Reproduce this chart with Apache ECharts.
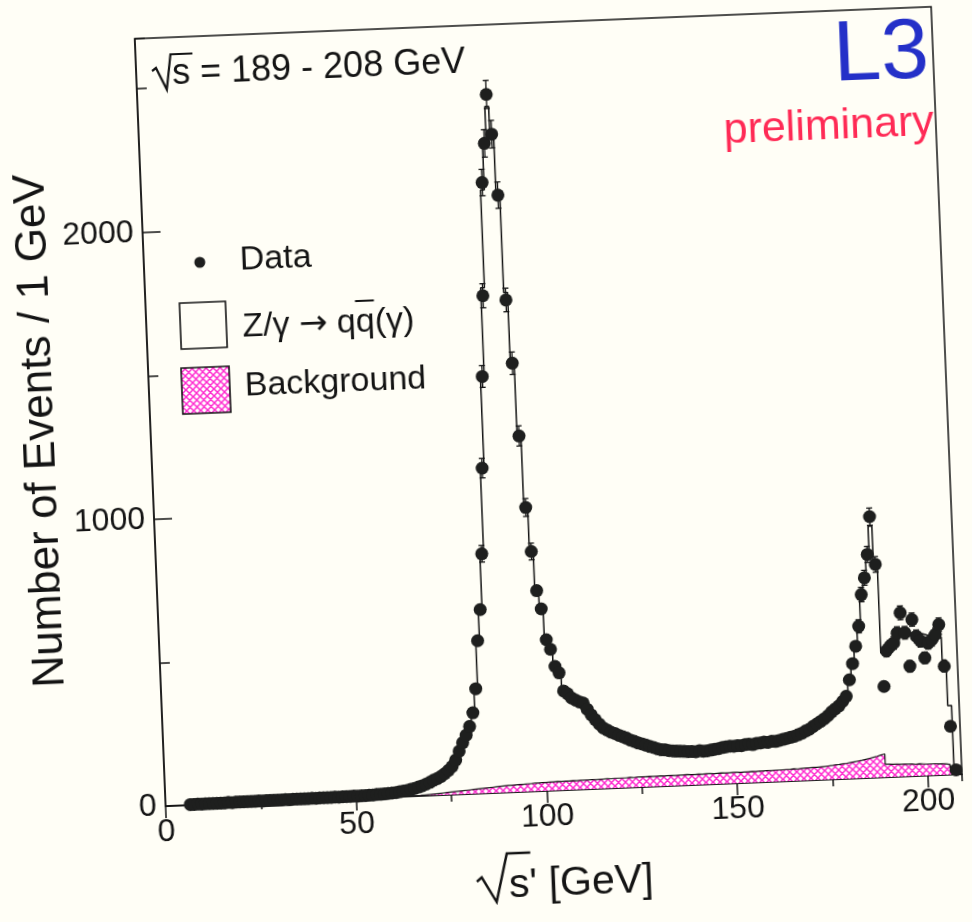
<!DOCTYPE html>
<html>
<head>
<meta charset="utf-8">
<title>L3 sqrt(s') spectrum</title>
<script src="https://cdn.jsdelivr.net/npm/echarts@6.0.0/dist/echarts.min.js"></script>
<style>
  html, body { margin: 0; padding: 0; background: #fffef6; overflow: hidden; }
  /* the reference is a slightly tilted scan, so the whole chart is turned a little */
  #main { width: 972px; height: 922px; transform: rotate(-2.3deg); transform-origin: 486px 461px; }
</style>
</head>
<body>
<div id="main"></div>
<script>
// 1 GeV bins: value i belongs to [start + i, start + i + 1)
const dataStart = 6;
const dataCounts = [
  2, 2, 3, 2,
  3, 3, 3, 3, 3, 3, 4, 3, 4, 4,
  4, 4, 4, 4, 5, 4, 5, 5, 5, 5,
  5, 6, 5, 6, 6, 6, 6, 6, 7, 6,
  7, 7, 7, 7, 8, 7, 8, 8, 8, 9,
  8, 9, 9, 10, 10, 11, 11, 12, 13, 14,
  15, 17, 19, 21, 24, 27, 31, 35, 40, 46,
  53, 58, 65, 74, 85, 98, 120, 150, 179, 205,
  235, 282, 365, 532, 640, 834, 1132, 1451, 1732, 2126,
  2262, 2432, 2293, 2080, 1714, 1493, 1239, 989, 835, 698,
  634, 526, 492, 432, 409, 345, 335, 320, 312, 305,
  300, 278, 258, 241, 225, 211, 203, 195, 190, 183,
  178, 172, 165, 160, 154, 150, 145, 140, 136, 131,
  127, 126, 123, 121, 120, 119, 118, 117, 117, 115,
  118, 116, 117, 119, 121, 123, 126, 128, 130, 129,
  131, 130, 133, 134, 132, 136, 137, 139, 138, 141,
  140, 143, 146, 149, 152, 155, 160, 165, 172, 178,
  187, 195, 203, 212, 222, 235, 245, 255, 270, 287,
  344, 400, 460, 529, 639, 697, 778, 909, 742, 316,
  440, 455, 466, 500, 570, 500, 383, 545, 486, 470,
  410, 461, 472, 490, 524, 378, 168, 16
];

// Z/gamma -> qq(gamma) prediction (total, background included)
const mcStart = 6;
const mcCounts = [
  2, 3, 3, 3,
  3, 3, 3, 3, 3, 4, 4, 4, 4, 4,
  4, 4, 4, 5, 5, 5, 5, 5, 5, 5,
  6, 6, 6, 6, 6, 6, 6, 7, 7, 7,
  7, 7, 7, 8, 8, 8, 8, 8, 9, 9,
  9, 9, 10, 10, 11, 11, 12, 12, 13, 14,
  16, 17, 19, 22, 24, 27, 31, 35, 40, 46,
  52, 58, 65, 74, 85, 100, 120, 148, 178, 206,
  238, 285, 370, 520, 650, 830, 1120, 1460, 1760, 2100,
  2280, 2390, 2300, 2060, 1740, 1480, 1250, 1000, 840, 710,
  620, 540, 480, 435, 400, 360, 335, 318, 308, 298,
  285, 268, 252, 238, 225, 213, 204, 196, 189, 182,
  176, 170, 164, 159, 154, 149, 145, 141, 137, 133,
  129, 126, 124, 122, 120, 119, 118, 117, 116, 116,
  116, 116, 117, 118, 120, 122, 124, 126, 128, 129,
  130, 131, 132, 133, 134, 135, 136, 137, 138, 139,
  140, 142, 145, 148, 152, 156, 161, 166, 172, 179,
  187, 195, 203, 212, 222, 234, 246, 258, 272, 290,
  330, 390, 460, 530, 620, 700, 780, 876, 760, 434,
  450, 470, 480, 490, 495, 500, 495, 500, 490, 495,
  490, 485, 490, 480, 480, 400, 240
];

const bgStart = 67;
const bgCounts = [
  2, 3, 4,
  5, 6, 7, 8, 9, 10, 11, 12, 13, 14,
  15, 16, 17, 18, 19, 20, 21, 22, 23, 24,
  24, 25, 26, 26, 27, 27, 28, 28, 29, 29,
  30, 30, 31, 30, 31, 31, 32, 31, 32, 32,
  32, 33, 32, 33, 33, 34, 33, 34, 34, 34,
  34, 35, 34, 35, 35, 35, 36, 35, 35, 36,
  35, 36, 36, 35, 36, 36, 37, 36, 36, 37,
  36, 37, 37, 36, 37, 38, 37, 37, 38, 38,
  37, 38, 38, 39, 38, 39, 39, 40, 39, 40,
  40, 40, 41, 41, 42, 41, 42, 43, 43, 44,
  44, 45, 46, 47, 48, 50, 51, 53, 54, 56,
  58, 60, 62, 65, 68, 71, 74, 78, 81, 45,
  44, 44, 43, 43, 42, 42, 41, 42, 41, 40,
  40, 40, 39, 39, 38, 35, 25
];

// error bars that stick out of the markers
const errBins = [85, 86, 87, 88, 89, 90, 91, 92, 93, 94, 95, 96, 97, 98,
  183, 184, 185, 186, 187, 188,
  190, 191, 192, 193, 194, 195, 196, 197, 198, 199, 200, 201, 202, 203, 204, 205];
const errSizes = [29, 34, 38, 42, 46, 48, 49, 48, 46, 41, 39, 35, 31, 29,
  23, 25, 26, 28, 30, 27,
  21, 21, 22, 22, 24, 22, 20, 23, 22, 22, 20, 21, 22, 22, 23, 19];

const FONT = '"Liberation Sans", Arial, Helvetica, sans-serif';
const ARROW_FONT = '"DejaVu Sans", sans-serif';
const INK = '#141414';
const PINK = '#ff2ccf';

function hatchCanvas() {
  const c = document.createElement('canvas');
  c.width = 7;
  c.height = 7;
  const g = c.getContext('2d');
  g.fillStyle = '#ffffff';
  g.fillRect(0, 0, 7, 7);
  g.strokeStyle = PINK;
  g.lineWidth = 1.5;
  g.beginPath();
  for (const d of [-7, 0, 7]) {
    g.moveTo(d, 0); g.lineTo(d + 7, 7);
    g.moveTo(d, 7); g.lineTo(d + 7, 0);
  }
  g.stroke();
  return c;
}
const hatch = { image: hatchCanvas(), repeat: 'repeat' };

const measure = document.createElement('canvas').getContext('2d');
function textWidth(t, size, family) {
  measure.font = size + 'px ' + (family || FONT);
  return measure.measureText(t).width;
}

const dataPoints = dataCounts.map((v, i) => [dataStart + i + 0.5, v]);
const mcSteps = mcCounts.map((v, i) => [mcStart + i, v]);
mcSteps.push([mcStart + mcCounts.length, 0]);
const bgSteps = bgCounts.map((v, i) => [bgStart + i, v]);
bgSteps.push([bgStart + bgCounts.length, 0]);
const errPoints = errBins.map((b, i) => [b + 0.5, dataCounts[b - dataStart], errSizes[i]]);

function renderErr(params, api) {
  const x = api.value(0), y = api.value(1), e = api.value(2);
  const top = api.coord([x, y + e]);
  const bot = api.coord([x, y - e]);
  const st = { stroke: INK, lineWidth: 1.3 };
  return {
    type: 'group',
    children: [
      { type: 'line', shape: { x1: top[0], y1: top[1], x2: bot[0], y2: bot[1] }, style: st },
      { type: 'line', shape: { x1: top[0] - 3, y1: top[1], x2: top[0] + 3, y2: top[1] }, style: st },
      { type: 'line', shape: { x1: bot[0] - 3, y1: bot[1], x2: bot[0] + 3, y2: bot[1] }, style: st }
    ]
  };
}

const chart = echarts.init(document.getElementById('main'), null, { renderer: 'canvas' });

const sW36 = textWidth('s', 36);
const sW41 = textWidth('s', 41);
// position of the barred q in the legend label
const qPre = textWidth('Z/\u03b3 ', 34) + textWidth('\u2192', 34, ARROW_FONT) + textWidth(' q', 34);
const qW = textWidth('q', 34);

const plainNumber = v => String(v);

const option = {
  animation: false,
  backgroundColor: 'transparent',
  textStyle: { fontFamily: FONT },
  grid: {
    left: 152, top: 25, width: 797, height: 768,
    show: true, borderColor: INK, borderWidth: 1.5,
    outerBoundsMode: 'none'
  },
  xAxis: [
    {
      type: 'value', min: 0, max: 209, interval: 50, position: 'bottom',
      axisLine: { lineStyle: { color: INK, width: 1.5 } },
      axisTick: { inside: false, length: 12, lineStyle: { color: INK, width: 1.5 } },
      axisLabel: { color: INK, fontSize: 32, fontFamily: FONT, margin: 10, showMaxLabel: false, formatter: plainNumber },
      splitLine: { show: false }
    },
    {
      type: 'value', min: 0, max: 209, interval: 25, position: 'bottom',
      axisLine: { show: false },
      axisTick: { inside: false, length: 7, lineStyle: { color: INK, width: 1.5 } },
      axisLabel: { show: false },
      splitLine: { show: false }
    }
  ],
  yAxis: [
    {
      type: 'value', min: 0, max: 2675, interval: 1000, position: 'left',
      axisLine: { show: true, lineStyle: { color: INK, width: 1.5 } },
      axisTick: { show: true, inside: true, length: 18, lineStyle: { color: INK, width: 1.5 } },
      axisLabel: { color: INK, fontSize: 32, fontFamily: FONT, margin: 9, showMaxLabel: false, formatter: plainNumber },
      splitLine: { show: false }
    },
    {
      type: 'value', min: 0, max: 2675, interval: 500, position: 'left',
      axisLine: { show: false },
      axisTick: { show: true, inside: true, length: 10, lineStyle: { color: INK, width: 1.5 } },
      axisLabel: { show: false },
      splitLine: { show: false }
    }
  ],
  series: [
    {
      name: 'Z/\u03b3 \u2192 qq(\u03b3)',
      type: 'line', step: 'end', data: mcSteps, symbol: 'none',
      lineStyle: { color: INK, width: 1.5 }, z: 2
    },
    {
      name: 'Background',
      type: 'line', step: 'end', data: bgSteps, symbol: 'none',
      lineStyle: { color: INK, width: 1.2 },
      areaStyle: { color: hatch, opacity: 1 }, z: 3
    },
    {
      type: 'custom', data: errPoints, renderItem: renderErr,
      encode: { x: 0, y: 1 }, z: 4
    },
    {
      name: 'Data',
      type: 'scatter', data: dataPoints, symbol: 'circle', symbolSize: 13,
      itemStyle: { color: '#1e1f1e', opacity: 1 }, z: 5
    }
  ],
  graphic: [
    // sqrt(s) = 189 - 208 GeV
    {
      type: 'polyline', z: 10,
      shape: { points: [[168, 58], [172, 55], [182, 77], [187, 42], [189 + sW36 + 2, 42]] },
      style: { stroke: INK, lineWidth: 2.2, fill: null }
    },
    {
      type: 'text', x: 188, y: 62, z: 10,
      style: { text: 's = 189 - 208 GeV', font: '36px ' + FONT, fill: INK, verticalAlign: 'middle' }
    },
    {
      type: 'text', x: 897, y: 71, z: 10,
      style: { text: 'L3', font: '86px ' + FONT, fill: '#2430c8', align: 'center', verticalAlign: 'middle' }
    },
    {
      type: 'text', x: 947, y: 141, z: 10,
      style: { text: 'preliminary', font: '43px ' + FONT, fill: '#ff2a55', align: 'right', verticalAlign: 'middle' }
    },
    // legend
    {
      type: 'circle', z: 10, shape: { cx: 208, cy: 251, r: 5.5 },
      style: { fill: '#1e1f1e' }
    },
    {
      type: 'text', x: 248, y: 251, z: 10,
      style: { text: 'Data', font: '34px ' + FONT, fill: INK, verticalAlign: 'middle' }
    },
    {
      type: 'rect', z: 10, shape: { x: 186, y: 291, width: 46, height: 46 },
      style: { fill: null, stroke: INK, lineWidth: 1.6 }
    },
    {
      type: 'text', x: 248, y: 318, z: 10,
      style: {
        text: '{t|Z/\u03b3 }{a|\u2192}{t| qq(\u03b3)}',
        fill: INK, verticalAlign: 'middle',
        rich: {
          t: { font: '34px ' + FONT, fill: INK },
          a: { font: '34px ' + ARROW_FONT, fill: INK }
        }
      }
    },
    {
      type: 'line', z: 10,
      shape: { x1: 248 + qPre, y1: 296, x2: 248 + qPre + qW, y2: 296 },
      style: { stroke: INK, lineWidth: 2 }
    },
    {
      type: 'rect', z: 10, shape: { x: 185, y: 356, width: 48, height: 46 },
      style: { fill: hatch, stroke: INK, lineWidth: 1.6 }
    },
    {
      type: 'text', x: 248, y: 377, z: 10,
      style: { text: 'Background', font: '34px ' + FONT, fill: INK, verticalAlign: 'middle' }
    },
    // axis titles
    {
      type: 'text', x: 43, y: 413, rotation: Math.PI / 2, z: 10,
      style: { text: 'Number of Events / 1 GeV', font: '44px ' + FONT, fill: INK, align: 'center', verticalAlign: 'middle' }
    },
    {
      type: 'polyline', z: 10,
      shape: { points: [[460, 881], [465, 877], [479, 902], [491, 854], [493 + sW41 + 1, 854]] },
      style: { stroke: INK, lineWidth: 2.5, fill: null }
    },
    {
      type: 'text', x: 492, y: 887, z: 10,
      style: { text: "s' [GeV]", font: '41px ' + FONT, fill: INK, verticalAlign: 'middle' }
    }
  ]
};

chart.setOption(option);
</script>
</body>
</html>
